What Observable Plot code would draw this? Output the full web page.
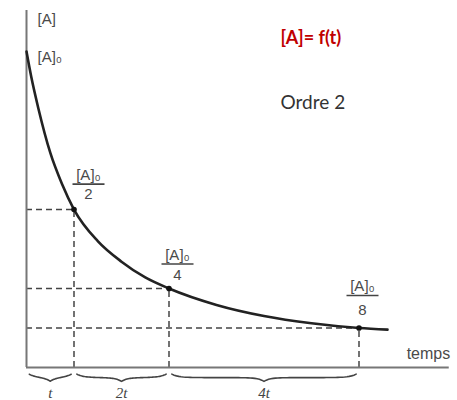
<!DOCTYPE html>
<html>
<head>
<meta charset="utf-8">
<script src="https://cdn.jsdelivr.net/npm/d3@7"></script>
<script src="https://cdn.jsdelivr.net/npm/@observablehq/plot@0.6"></script>
<style>
  html, body { margin: 0; padding: 0; background: #fff; }
  #chart svg { display: block; }
</style>
</head>
<body>
<div id="chart"></div>
<script>
// Second-order decay of [A] (in units of [A]0) against time (in units of the first half-life)
const curveT = [0, 0.1, 0.25, 0.5, 0.75, 1, 1.5, 2, 2.5, 3, 4, 5, 6, 7, 7.6];
const curveC = [1.0, 0.92, 0.82, 0.68, 0.58, 0.5, 0.40, 0.335, 0.285, 0.25, 0.198, 0.163, 0.14, 0.125, 0.12];

// Successive half-lives: [A]0/2, [A]0/4, [A]0/8
const halfT = [1, 3, 7];
const halfC = [0.5, 0.25, 0.125];
const halfDen = ["2", "4", "8"];

// Labels under the time axis for each half-life interval
const spanLabels = ["t", "2t", "4t"];

const titleText = "[A]= f(t)";
const orderText = "Ordre 2";
const yLabel = "[A]";
const y0Label = "[A]₀";
const xLabel = "temps";

// Pixel placement of the fraction labels next to each point
const fracOffsets = [
  {dx: 15, num: -34, bar: -25, den: -15},
  {dx: 9, num: -33, bar: -24, den: -13},
  {dx: 4, num: -42, bar: -32, den: -18}
];

const curve = curveT.map((t, i) => ({t, c: curveC[i]}));
const points = halfT.map((t, i) => ({t, c: halfC[i], den: halfDen[i], start: i === 0 ? 0 : halfT[i - 1], label: spanLabels[i]}));

// Curly brace drawn under each interval: curled ends, flat body, pointed middle
function brace(a, b, id) {
  const inset = 0.06, lo = a + inset, hi = b - inset, m = (a + b) / 2, n = 80, out = [];
  for (let k = 0; k <= n; k++) {
    const x = lo + (hi - lo) * k / n;
    const fromEnd = Math.min(x - lo, hi - x);
    const fromMid = Math.abs(x - m);
    const depth = 0.021 + 0.011 * (1 - Math.exp(-fromEnd / 0.14)) + 0.012 * Math.exp(-fromMid / 0.12);
    out.push({x, y: -depth, id});
  }
  return out;
}
const braces = points.flatMap((p, i) => brace(p.start, p.t, i));

const sans = "'Liberation Sans', Arial, sans-serif";
const ink = "#4a4a4a";

// Fraction labels ([A]0 over a bar over the divisor), placed with the plot's scales
function fractions(index, scales) {
  const g = d3.create("svg:g").attr("font-family", sans).attr("fill", ink).attr("text-anchor", "middle");
  points.forEach((p, i) => {
    const o = fracOffsets[i];
    const cx = scales.x(p.t) + o.dx, cy = scales.y(p.c);
    g.append("text").attr("x", cx).attr("y", cy + o.num).attr("dy", "0.35em").attr("font-size", 15).text(y0Label);
    g.append("line").attr("x1", cx - 16).attr("x2", cx + 16).attr("y1", cy + o.bar).attr("y2", cy + o.bar)
      .attr("stroke", "#444").attr("stroke-width", 1.7);
    g.append("text").attr("x", cx).attr("y", cy + o.den).attr("dy", "0.35em").attr("font-size", 15).text(p.den);
  });
  return g.node();
}

const chart = Plot.plot({
  width: 457,
  height: 400,
  marginTop: 0, marginRight: 0, marginBottom: 0, marginLeft: 0,
  x: {domain: [0, 8.9], range: [26, 448.75], axis: null},
  y: {domain: [0, 1.13], range: [367, 10], axis: null},
  style: {background: "#fff"},
  marks: [
    // dashed guides from each half-life point to the axes
    Plot.ruleY(points, {y: "c", x1: 0, x2: "t", stroke: "#444", strokeWidth: 1.5, strokeDasharray: "6,4"}),
    Plot.ruleX(points, {x: "t", y1: 0, y2: "c", stroke: "#444", strokeWidth: 1.5, strokeDasharray: "6,4"}),
    // axes
    Plot.ruleX([0], {y1: 0, y2: 1.13, stroke: "#777", strokeWidth: 2}),
    Plot.ruleY([0], {x1: 0, x2: 8.9, stroke: "#777", strokeWidth: 2}),
    // decay curve
    Plot.line(curve, {x: "t", y: "c", curve: "monotone-x", stroke: "#222", strokeWidth: 2.6}),
    Plot.dot(points, {x: "t", y: "c", r: 2.8, fill: "#111"}),
    // braces and interval labels
    Plot.line(braces, {x: "x", y: "y", z: "id", curve: "linear", stroke: "#444", strokeWidth: 1.6}),
    Plot.text(points, {x: d => (d.start + d.t) / 2, y: -0.08, text: "label", fontFamily: "'Liberation Serif', serif",
      fontStyle: "italic", fontSize: 15, fill: "#444"}),
    // axis labels
    Plot.text([yLabel], {x: 0, y: 1.13, text: d => d, dx: 11, dy: 9, textAnchor: "start", fontFamily: sans, fontSize: 15, fill: ink}),
    Plot.text([y0Label], {x: 0, y: 1, text: d => d, dx: 11, dy: 6, textAnchor: "start", fontFamily: sans, fontSize: 15, fill: ink}),
    Plot.text([xLabel], {x: 8.9, y: 0, text: d => d, dx: 1, dy: -14, textAnchor: "end", fontFamily: sans, fontSize: 16, fill: ink}),
    fractions,
    // title block
    Plot.text([titleText], {frameAnchor: "top-left", text: d => d, dx: 280, dy: 38, lineAnchor: "middle", textAnchor: "start",
      fontFamily: "Lato, 'Open Sans', sans-serif", fontWeight: "bold", fontSize: 18, fill: "#c00000"}),
    Plot.text([orderText], {frameAnchor: "top-left", text: d => d, dx: 280, dy: 102, lineAnchor: "middle", textAnchor: "start",
      fontFamily: "Lato, 'Open Sans', sans-serif", fontSize: 19, fill: "#333"})
  ]
});

document.getElementById("chart").append(chart);
</script>
</body>
</html>
